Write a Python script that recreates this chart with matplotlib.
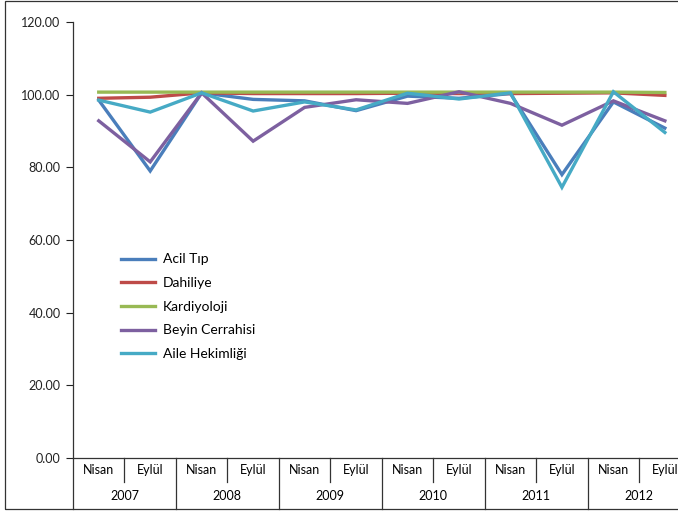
import matplotlib
matplotlib.use("Agg")
import matplotlib.pyplot as plt
from matplotlib.transforms import blended_transform_factory
from matplotlib.patches import Rectangle

plt.rcParams["font.family"] = ["Lato", "DejaVu Sans"]

years = ["2007", "2008", "2009", "2010", "2011", "2012"]
months = ["Nisan", "Eylül"]

acil_tip = [98.5, 79.0, 100.5, 98.7, 98.3, 95.6, 99.6, 99.0, 100.3, 78.0, 98.0, 90.8]
dahiliye = [99.0, 99.3, 100.5, 100.3, 100.3, 100.3, 100.4, 100.3, 100.3, 100.4, 100.5, 99.8]
kardiyoloji = [100.7, 100.7, 100.7, 100.7, 100.7, 100.7, 100.7, 100.7, 100.7, 100.7, 100.7, 100.6]
beyin_cerrahisi = [92.8, 81.5, 100.5, 87.2, 96.5, 98.6, 97.6, 100.8, 97.6, 91.6, 98.3, 92.8]
aile_hekimligi = [98.5, 95.2, 100.5, 95.5, 98.0, 95.8, 100.4, 98.8, 100.5, 74.5, 100.8, 89.6]

series = [
    ("Acil Tıp", acil_tip, "#4a7ebb"),
    ("Dahiliye", dahiliye, "#be4b48"),
    ("Kardiyoloji", kardiyoloji, "#98b954"),
    ("Beyin Cerrahisi", beyin_cerrahisi, "#7d60a0"),
    ("Aile Hekimliği", aile_hekimligi, "#46aac5"),
]

fig = plt.figure(figsize=(6.78, 5.12), dpi=100)
fig.patch.set_facecolor("white")
ax = fig.add_axes([73 / 678, 1 - 458 / 512, 617.6 / 678, 436 / 512])

x = list(range(len(years) * 2))
for name, vals, col in series:
    ax.plot(x, vals, color=col, lw=2.4, label=name, solid_joinstyle="miter")

ax.set_xlim(-0.5, len(x) - 0.5)
ax.set_ylim(0, 120)
ax.set_yticks(range(0, 121, 20))
ax.set_yticklabels([f"{v:.2f}" for v in range(0, 121, 20)], fontsize=9)
ax.tick_params(axis="y", length=5, width=0.8, pad=4, colors="#222222")
ax.set_xticks([])
for s in ["top", "right"]:
    ax.spines[s].set_visible(False)
for s in ["left", "bottom"]:
    ax.spines[s].set_linewidth(0.9)
    ax.spines[s].set_color("#333333")

# two-level category axis
tr = blended_transform_factory(ax.transData, ax.transAxes)
row1 = -24 / 436
row2 = -51 / 436
for i, yr in enumerate(years):
    ax.plot([2 * i - 0.5, 2 * i - 0.5], [0, row2], transform=tr, color="#333333", lw=0.9, clip_on=False)
    ax.plot([2 * i + 0.5, 2 * i + 0.5], [0, row1], transform=tr, color="#333333", lw=0.9, clip_on=False)
    for j, m in enumerate(months):
        ax.text(2 * i + j, row1 / 2, m, transform=tr, ha="center", va="center", fontsize=9)
    ax.text(2 * i + 0.5, (row1 + row2) / 2, yr, transform=tr, ha="center", va="center", fontsize=9)

leg = ax.legend(loc="upper left", bbox_to_anchor=(0.058, 0.498), frameon=False, fontsize=10,
                handlelength=2.4, handletextpad=0.6, labelspacing=0.84)

# outer frame
fig.patches.append(Rectangle((5 / 678, 3 / 512), 1.0, 1 - 4 / 512, transform=fig.transFigure,
                             fill=False, ec="#333333", lw=0.9))

fig.savefig("out.png", dpi=100, facecolor="white")
